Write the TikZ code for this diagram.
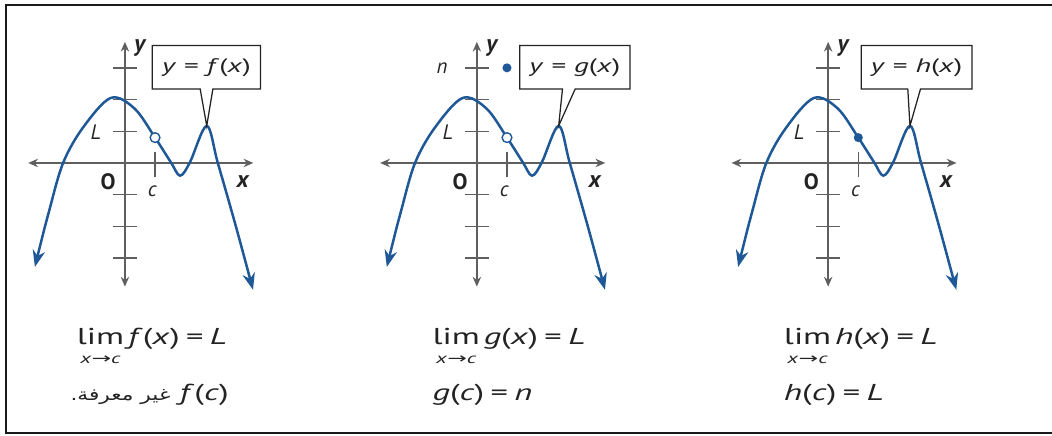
\documentclass[tikz,border=0pt]{standalone}
\usepackage{fontspec}
\setmainfont{PT Sans}
\newfontfamily\widefont[FakeStretch=1.5]{PT Sans}
\newfontfamily\arabicfont[Script=Arabic,FakeStretch=1.3]{DejaVu Sans}
\newfontfamily\arrowfont[FakeStretch=1.6]{DejaVu Sans}
\TeXXeTstate=1
\usetikzlibrary{arrows.meta,shapes.callouts}

\definecolor{curveblue}{RGB}{30,88,150}
\definecolor{axisgray}{RGB}{95,95,95}
\definecolor{inkgray}{RGB}{35,35,35}

% lim with x -> c set underneath
\newcommand{\limxc}{\begin{tabular}[t]{@{}c@{}}lim\\[-5pt]{\fontsize{10.5}{10.5}\selectfont\textit{x}{\arrowfont→}\textit{c}}\end{tabular}}

\begin{document}
\begin{tikzpicture}[x=0.8cm, y=0.8cm, font=\fontsize{15}{18}\selectfont, text=inkgray,
  axisline/.style={axisgray, line width=1.1pt, {Stealth[length=7pt,width=6pt]}-{Stealth[length=7pt,width=6pt]}},
  fnline/.style={curveblue, line width=1.8pt, {Stealth[length=12pt,width=9pt]}-{Stealth[length=12pt,width=9pt]}},
  tickmark/.style={axisgray, line width=1pt},
  namebox/.style={rectangle callout, draw=inkgray, fill=white, line width=0.9pt,
    font=\widefont\fontsize{14}{16}\selectfont,
    callout pointer width=0.32cm, minimum height=1.1cm, inner xsep=7pt},
  openpt/.style={circle, draw=curveblue, fill=white, line width=1pt, inner sep=0pt, minimum size=7pt},
  solidpt/.style={circle, fill=curveblue, inner sep=0pt, minimum size=6.5pt},
  axislabel/.style={font=\bfseries\itshape\fontsize{17}{18}\selectfont},
  formula/.style={anchor=base west, font=\widefont\fontsize{16.5}{18}\selectfont}]
  \useasboundingbox (-3.94,5.14) rectangle (29.24,-8.58);
  % frame, open on the right where the page is cut
  \draw[black!90, line width=1.6pt] (29.24,4.98) -- (-3.75,4.98) -- (-3.75,-8.52) -- (29.24,-8.52);

  % the three graphs share axes, curve and name box
  \foreach \sx/\fn/\bx in {0/f/2.57, 11.1/g/3.09, 22.18/h/2.79} {
    \begin{scope}[shift={(\sx,0)}]
      \draw[axisline] (-3.05,0) -- (4.05,0);
      \draw[axisline] (0,-3.9) -- (0,3.82);
      \foreach \t in {-3,-2,-1,1,2,3}
        \draw[tickmark] (-0.38,\t) -- (0.38,\t);
      \draw[tickmark] (0.95,0.35) -- (0.95,-0.45);
      \draw[fnline] plot[smooth, tension=0.55] coordinates {(-2.84,-3.28) (-2.4,-1.55) (-1.95,0)
        (-1.32,1.12) (-0.45,2.05) (0.3,1.72) (0.95,0.8) (1.45,0.02) (1.74,-0.4) (2.05,0.02)
        (2.58,1.17) (2.93,0) (3.5,-2.0) (4.04,-4.0)};
      \coordinate (pk\fn) at (2.58,1.17);
      \node[namebox, callout absolute pointer={(pk\fn)}] (box\fn) at (\bx,3.02)
        {\textit{y} = \textit{\fn}(\textit{x})};
      \node[axislabel] (ylab\fn) at (0.47,3.63) {y};
      \node[axislabel] (xlab\fn) at (3.72,-0.6) {x};
      \node[font=\bfseries\fontsize{16}{18}\selectfont] (orig\fn) at (-0.53,-0.6) {O};
      \node (clab\fn) at (0.87,-0.88) {\textit{c}};
      \node (Llab\fn) at (-0.92,0.97) {\textit{L}};
    \end{scope}
  }

  % points at x = c
  \node[openpt] (holef) at (0.95,0.8) {};
  \begin{scope}[shift={(11.1,0)}]
    \node[openpt] (holeg) at (0.95,0.8) {};
    \node[solidpt] (dotn) at (0.95,3.0) {};
    \node (nlab) at (-1.1,3.0) {\textit{n}};
  \end{scope}
  \begin{scope}[shift={(22.18,0)}]
    \node[solidpt] (doth) at (0.95,0.8) {};
  \end{scope}

  % limits and values under each graph
  \node[formula] (limf) at (-1.67,-5.74) {\limxc\,\textit{f}(\textit{x})\;=\;\textit{L}};
  \node[formula] (limg) at (9.55,-5.74) {\limxc\,\textit{g}(\textit{x})\;=\;\textit{L}};
  \node[formula] (limh) at (20.63,-5.74) {\limxc\,\textit{h}(\textit{x})\;=\;\textit{L}};
  \node[formula] (valf) at (-1.87,-7.5)
    {{\arabicfont\fontsize{12}{13}\selectfont\beginR غير معرفة.\endR}\ \textit{f}(\textit{c})};
  \node[formula] (valg) at (9.55,-7.5) {\textit{g}(\textit{c})\;=\;\textit{n}};
  \node[formula] (valh) at (20.63,-7.5) {\textit{h}(\textit{c})\;=\;\textit{L}};
\end{tikzpicture}
\end{document}
